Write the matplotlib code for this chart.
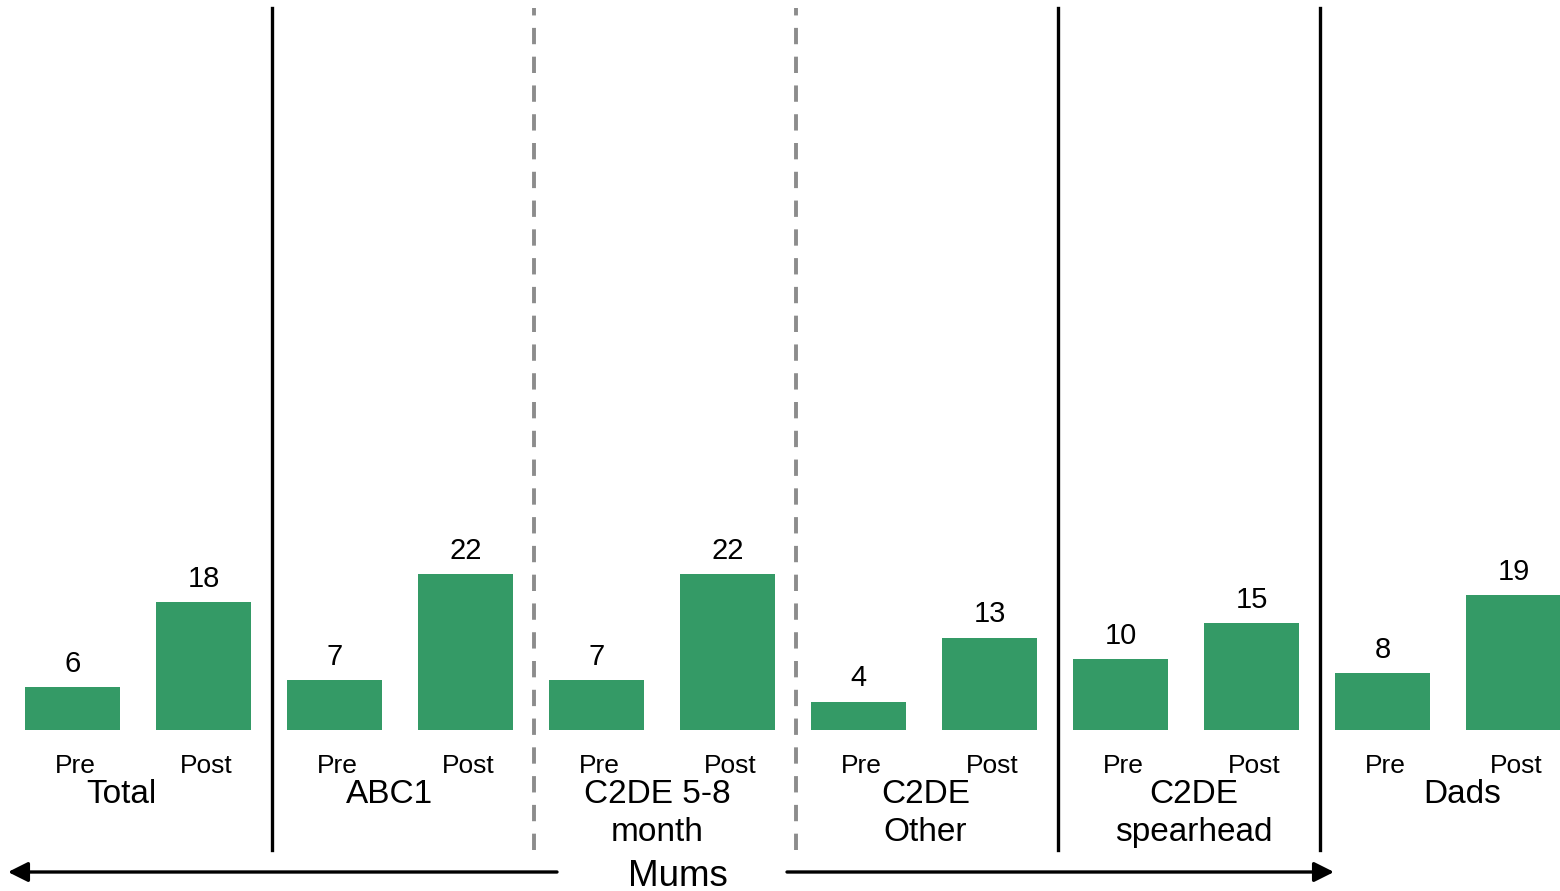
import matplotlib.pyplot as plt
import numpy as np

plt.rcParams["font.family"] = ["Liberation Sans", "DejaVu Sans"]

# Data
groups = ["Total", "ABC1", "C2DE 5-8\nmonth", "C2DE\nOther", "C2DE\nspearhead", "Dads"]
periods = ["Pre", "Post"]
pre_values = [6, 7, 7, 4, 10, 8]
post_values = [18, 22, 22, 13, 15, 19]
separator_styles = ["solid", "dashed", "dashed", "solid", "solid"]
bracket_label = "Mums"

bar_color = "#349a66"

# one slot per bar, Pre then Post within each group
values = np.ravel(np.column_stack([pre_values, post_values]))
x = np.arange(len(values))
group_centers = x[::2] + 0.5

fig = plt.figure(figsize=(15.6, 8.91), dpi=100)
ax = fig.add_axes([0, 0, 1, 1])
ax.set_xlim(-0.553, 11.355)
ax.set_ylim(-22.68, 102.82)
ax.axis("off")

ax.bar(x, values, width=0.725, color=bar_color)

# value labels above bars
for xi, v in zip(x, values):
    ax.annotate(str(v), (xi, v), xytext=(0, 11), textcoords="offset points",
                ha="center", va="baseline", fontsize=21)

# Pre / Post labels
for xi in x:
    ax.text(xi + 0.02, -6.05, periods[xi % 2], ha="center", va="baseline", fontsize=19)

# group names (their spacing is a bit wider than the bar groups in the original)
label_x = group_centers[0] - 0.13 + np.arange(len(groups)) * 2.047
line_step = 5.35  # data units between lines of a group name
for lx, name in zip(label_x, groups):
    n_extra = name.count("\n")
    ax.text(lx, -10.3 - n_extra * line_step, name, ha="center", va="baseline",
            fontsize=24, linespacing=1.28)

# group separators
for i, style in enumerate(separator_styles):
    sx = group_centers[i] + 1.02
    if style == "solid":
        ax.axvline(sx, ymin=0.046, ymax=0.991, color="black", lw=2.4)
    else:
        ax.axvline(sx, ymin=0.046, ymax=0.991, color="#8c8c8c", lw=2.8,
                   linestyle=(0, (4.2, 3.2)))

# Mums bracket arrows
arrow_y = 1 - 872 / 891
arrow_kw = dict(arrowstyle="-|>,head_length=0.8,head_width=0.4", color="black",
                lw=2.4, shrinkA=0, shrinkB=0, mutation_scale=15)
ax.annotate("", xy=(8 / 1560, arrow_y), xytext=(557 / 1560, arrow_y),
            xycoords="figure fraction", textcoords="figure fraction",
            arrowprops=arrow_kw)
ax.annotate("", xy=(1334 / 1560, arrow_y), xytext=(787 / 1560, arrow_y),
            xycoords="figure fraction", textcoords="figure fraction",
            arrowprops=arrow_kw)
fig.text(678 / 1560, 1 - 886 / 891, bracket_label, ha="center", va="baseline",
         fontsize=26.5)

fig.savefig("out.png", dpi=100)
